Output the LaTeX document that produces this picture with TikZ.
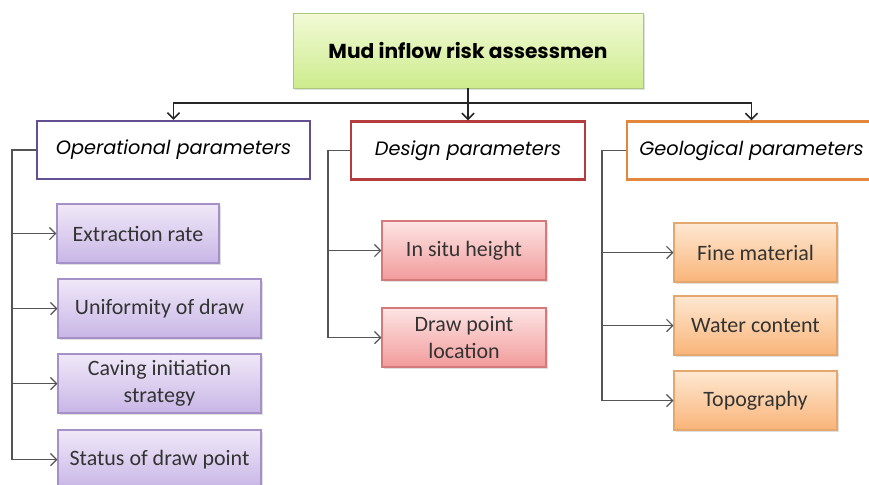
\documentclass[tikz,border=0pt]{standalone}
\usepackage{fontspec}
\setmainfont{Carlito}
\newfontfamily\headfont{Poppins}
\usepackage{tikz}
\usetikzlibrary{arrows.meta,positioning,shadows}
\definecolor{linegray}{RGB}{85, 85, 85}
\definecolor{opborder}{RGB}{100, 80, 145}
\definecolor{dsborder}{RGB}{180, 60, 60}
\definecolor{geoborder}{RGB}{228, 135, 60}
\definecolor{lilactop}{RGB}{240, 232, 248}
\definecolor{lilacbot}{RGB}{200, 182, 230}
\definecolor{lilacedge}{RGB}{165, 145, 200}
\definecolor{pinktop}{RGB}{253, 228, 228}
\definecolor{pinkbot}{RGB}{242, 155, 155}
\definecolor{pinkedge}{RGB}{212, 122, 122}
\definecolor{peachtop}{RGB}{254, 232, 210}
\definecolor{peachbot}{RGB}{249, 180, 120}
\definecolor{peachedge}{RGB}{228, 168, 110}
\definecolor{limetop}{RGB}{242, 250, 215}
\definecolor{limebot}{RGB}{205, 236, 140}
\definecolor{limeedge}{RGB}{170, 200, 125}

\begin{document}
\begin{tikzpicture}[x=0.02cm, y=-0.02cm,
    title/.style={rectangle, draw=limeedge, top color=limetop, bottom color=limebot,
        minimum width=7.0cm, minimum height=1.5cm, font=\headfont\bfseries\fontsize{11.5}{13}\selectfont,
        drop shadow={opacity=0.25, shadow xshift=1pt, shadow yshift=-1pt}},
    header/.style={rectangle, fill=white, line width=1.2pt, minimum height=1.16cm,
        font=\headfont\itshape\fontsize{11}{13}\selectfont},
    child/.style={rectangle, line width=0.6pt, minimum height=1.18cm, align=center,
        text=black!80, font=\fontsize{12.5}{15.5}\selectfont,
        drop shadow={opacity=0.25, shadow xshift=1pt, shadow yshift=-1.2pt}},
    opchild/.style={child, draw=lilacedge, top color=lilactop, bottom color=lilacbot},
    dschild/.style={child, draw=pinkedge, top color=pinktop, bottom color=pinkbot},
    geochild/.style={child, draw=peachedge, top color=peachtop, bottom color=peachbot},
    link/.style={linegray, line width=0.7pt},
    arrow/.style={link, -{Straight Barb[length=3.5pt, width=7pt]}},
    toparrow/.style={arrow, black!85, line width=0.9pt}]

\useasboundingbox (0,0) rectangle (869,484);

% Root
\node[title] (root) at (468, 50.5) {Mud inflow risk assessmen};

% Header boxes
\node[header, draw=opborder, minimum width=5.46cm] (op) at (173.5, 150) {Operational parameters};
\node[header, draw=dsborder, minimum width=4.68cm] (ds) at (468, 150.5) {Design parameters};
\node[header, draw=geoborder, minimum width=4.98cm] (geo) at (751.5, 150.5) {Geological parameters};

% Operational children
\node[opchild, minimum width=3.24cm] (ext)  at (138, 233.5) {Extraction rate};
\node[opchild, minimum width=4.06cm] (unif) at (159.5, 308.5) {Uniformity of draw};
\node[opchild, minimum width=4.06cm] (cav)  at (159.5, 383.5) {Caving initiation\\strategy};
\node[opchild, minimum width=4.06cm] (stat) at (159.5, 459.5) {Status of draw point};

% Design children
\node[dschild, minimum width=3.28cm] (situ) at (464, 250.5) {In situ height};
\node[dschild, minimum width=3.28cm] (loc)  at (464, 337.5) {Draw point\\location};

% Geological children
\node[geochild, minimum width=3.26cm] (fine)  at (755.5, 252.5) {Fine material};
\node[geochild, minimum width=3.26cm] (water) at (755.5, 325.5) {Water content};
\node[geochild, minimum width=3.26cm] (topo)  at (755.5, 400.5) {Topography};

% Root to headers
\coordinate (bus) at (468, 103);
\coordinate (opspine) at (12, 150);
\coordinate (dsspine) at (328, 150);
\coordinate (geospine) at (602, 150);
\draw[toparrow] (root.south) -- (ds.north);
\draw[toparrow] (bus) -| (op.north);
\draw[toparrow] (bus) -| (geo.north);

% Spines
\draw[link] (op.west) -| (stat.west -| opspine);
\draw[link] (ds.west) -| (loc.west -| dsspine);
\draw[link] (geo.west) -| (topo.west -| geospine);

% Branches
\foreach \n in {ext, unif, cav, stat}
    \draw[arrow] (\n.west -| opspine) -- (\n.west);
\foreach \n in {situ, loc}
    \draw[arrow] (\n.west -| dsspine) -- (\n.west);
\foreach \n in {fine, water, topo}
    \draw[arrow] (\n.west -| geospine) -- (\n.west);

\end{tikzpicture}
\end{document}
